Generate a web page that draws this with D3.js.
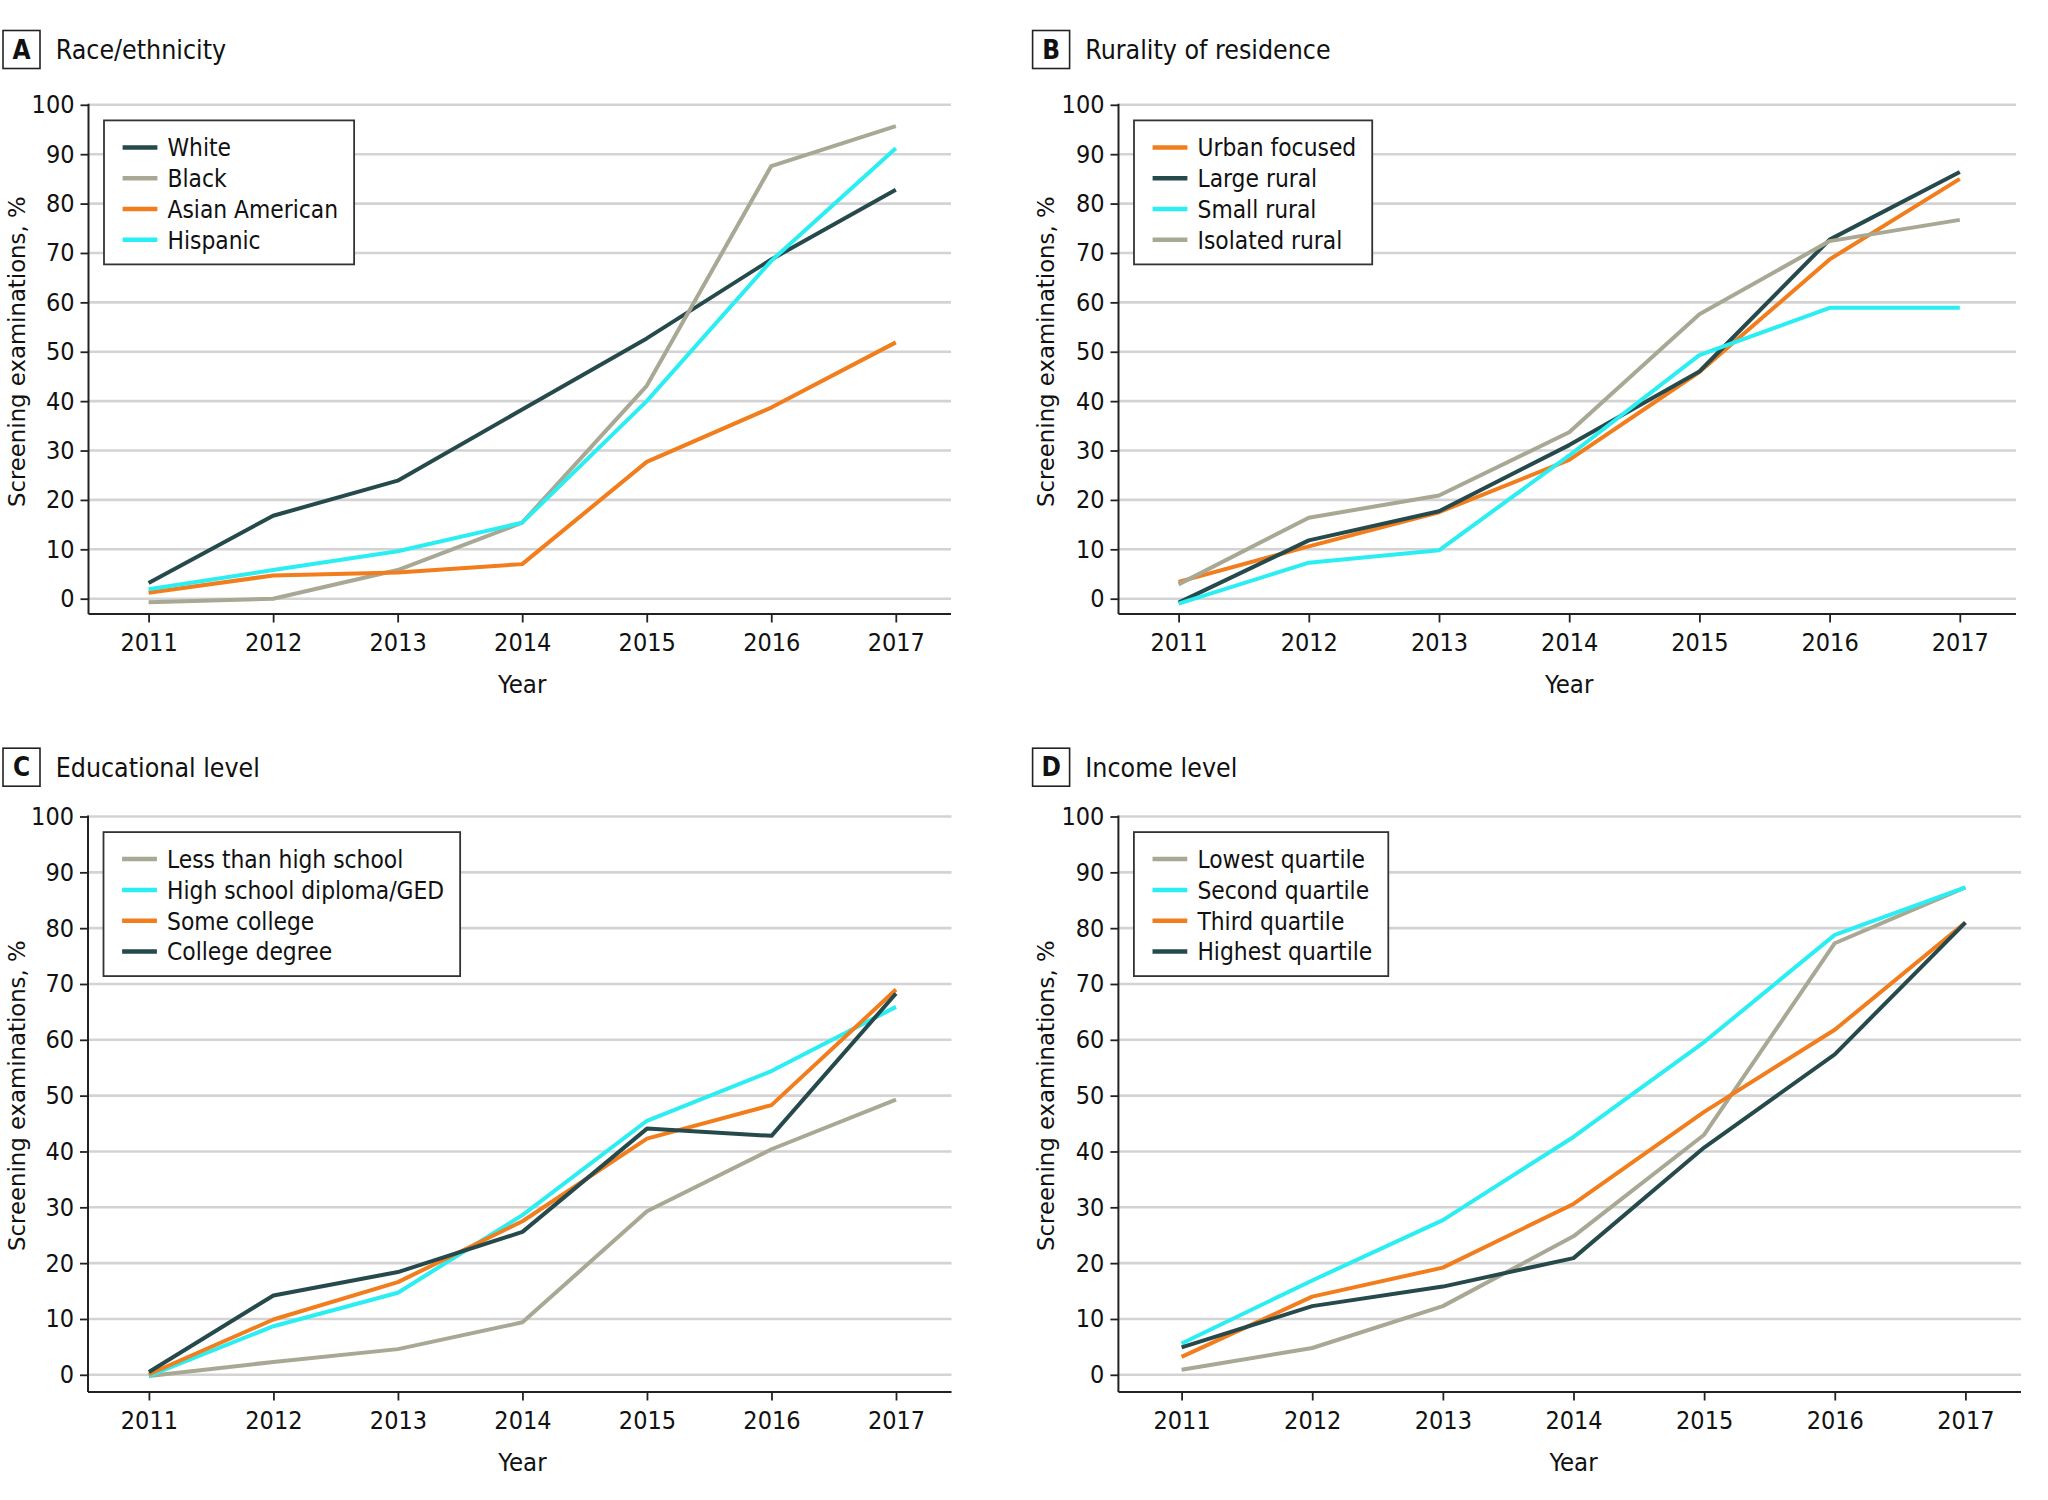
<!DOCTYPE html>
<html>
<head>
<meta charset="utf-8">
<script src="https://cdn.jsdelivr.net/npm/d3@7"></script>
<style>
	body { margin: 0; background: #fff; }
	svg { display: block; }
	.cond { font-family: "DejaVu Sans Condensed", "DejaVu Sans", sans-serif; font-stretch: condensed; }
	.ylab { font-family: "DejaVu Sans", sans-serif; }
</style>
</head>
<body>
<svg id="chart" width="2048" height="1500"></svg>
<script>
/*	Data ----------------------------------------------------------------------*/
var years = [2011, 2012, 2013, 2014, 2015, 2016, 2017];
var valueTicks = [0, 10, 20, 30, 40, 50, 60, 70, 80, 90, 100];

var raceNames = ["White", "Black", "Asian American", "Hispanic"];
var raceWhite = [3.2, 16.8, 23.9, 38.3, 52.7, 68.7, 82.8];
var raceBlack = [-0.7, 0, 5.8, 15.4, 43.1, 87.6, 95.7];
var raceAsian = [1.2, 4.7, 5.3, 7.0, 27.7, 38.7, 51.9];
var raceHispanic = [1.9, 5.8, 9.6, 15.4, 40.0, 68.4, 91.2];

var ruralNames = ["Urban focused", "Large rural", "Small rural", "Isolated rural"];
var ruralUrban = [3.4, 10.6, 17.5, 28.1, 45.9, 68.7, 85.0];
var ruralLarge = [-0.8, 11.8, 17.7, 31.1, 46.0, 72.7, 86.4];
var ruralSmall = [-1.0, 7.3, 9.8, 29.0, 49.3, 58.9, 58.9];
var ruralIsolated = [2.9, 16.4, 20.9, 33.7, 57.6, 72.4, 76.7];

var eduNames = ["Less than high school", "High school diploma/GED", "Some college", "College degree"];
var eduLess = [-0.2, 2.3, 4.6, 9.4, 29.3, 40.4, 49.3];
var eduHigh = [-0.2, 8.7, 14.7, 28.6, 45.5, 54.4, 65.9];
var eduSome = [0.1, 9.9, 16.6, 27.5, 42.3, 48.3, 69.0];
var eduCollege = [0.5, 14.2, 18.4, 25.6, 44.1, 42.8, 68.3];

var incomeNames = ["Lowest quartile", "Second quartile", "Third quartile", "Highest quartile"];
var incomeLowest = [0.9, 4.8, 12.3, 24.8, 43.0, 77.3, 87.3];
var incomeSecond = [5.6, 16.9, 27.7, 42.6, 59.6, 78.8, 87.3];
var incomeThird = [3.2, 14.0, 19.2, 30.6, 47.1, 61.8, 81.0];
var incomeHighest = [4.9, 12.3, 15.8, 20.9, 40.7, 57.4, 81.0];

/*	Colours --------------------------------------------------------------------*/
var cDark = "#264a4c", cGray = "#a8a894", cOrange = "#f27d1c", cCyan = "#2aeef2";

/*	Panels: layout in pixels + the series drawn in it ---------------------------*/
var panels = [
	{ letter: "A", title: "Race/ethnicity", ox: 0, oy: 0,
	  left: 88.5, right: 951, x0: 148.6, x1: 895.8, yTop: 104.8, yZero: 598.7, axisY: 614,
	  names: raceNames, values: [raceWhite, raceBlack, raceAsian, raceHispanic],
	  colors: [cDark, cGray, cOrange, cCyan] },
	{ letter: "B", title: "Rurality of residence", ox: 1029.6, oy: 0,
	  left: 1118.5, right: 2016, x0: 1178.6, x1: 1959.8, yTop: 104.8, yZero: 598.7, axisY: 614,
	  names: ruralNames, values: [ruralUrban, ruralLarge, ruralSmall, ruralIsolated],
	  colors: [cOrange, cDark, cCyan, cGray] },
	{ letter: "C", title: "Educational level", ox: 0, oy: 717.7,
	  left: 88, right: 951.5, x0: 148.9, x1: 896, yTop: 816.5, yZero: 1374.8, axisY: 1392,
	  names: eduNames, values: [eduLess, eduHigh, eduSome, eduCollege],
	  colors: [cGray, cCyan, cOrange, cDark] },
	{ letter: "D", title: "Income level", ox: 1029.6, oy: 717.7,
	  left: 1118.4, right: 2021, x0: 1181.6, x1: 1965.4, yTop: 816.5, yZero: 1374.8, axisY: 1392,
	  names: incomeNames, values: [incomeLowest, incomeSecond, incomeThird, incomeHighest],
	  colors: [cGray, cCyan, cOrange, cDark] }
];

var svg = d3.select("#chart");

/*	Title with boxed letter ----------------------------------------------------*/
var addTitle = function(self) {
	var g = self.g;
	g.append("rect")
		.attr("x", 3 + self.ox).attr("y", 30.5 + self.oy)
		.attr("width", 37).attr("height", 38)
		.style("fill", "none").style("stroke", "#222").style("stroke-width", "1.6");
	g.append("text")
		.attr("class", "cond")
		.attr("x", 21.5 + self.ox).attr("y", 58.5 + self.oy)
		.attr("text-anchor", "middle")
		.attr("font-size", "26px").attr("font-weight", "bold")
		.style("fill", "#111")
		.text(self.letter);
	g.append("text")
		.attr("class", "cond")
		.attr("x", 55.7 + self.ox).attr("y", 58.9 + self.oy)
		.attr("font-size", "26.5px")
		.style("fill", "#111")
		.text(self.title);
}

/*	Grid, axes and labels ------------------------------------------------------*/
var addAxis = function(self) {
	var g = self.g;
	/*	horizontal grid lines ---------------------------------------------------*/
	g.append("g").selectAll("line")
		.data(valueTicks)
		.enter()
		.append("line")
		.attr("x1", self.left).attr("x2", self.right)
		.attr("y1", function(d) { return self.yScale(d); })
		.attr("y2", function(d) { return self.yScale(d); })
		.style("stroke", "#d3d3d3").style("stroke-width", "2.6");

	/*	Y axis ------------------------------------------------------------------*/
	var yAxis = d3.axisLeft(self.yScale).tickValues(valueTicks).tickSize(8).tickPadding(6);
	var yG = g.append("g")
		.attr("transform", "translate(" + self.left + ",0)")
		.call(yAxis);
	yG.select(".domain").remove();
	yG.append("line")
		.attr("x1", 0).attr("x2", 0)
		.attr("y1", self.yScale(100) - 1).attr("y2", self.axisY)
		.style("stroke", "#222").style("stroke-width", "2");
	yG.selectAll("g.tick line").style("stroke", "#222").style("stroke-width", "1.8");
	yG.selectAll("g.tick text")
		.attr("class", "cond")
		.style("font-size", "25px").style("fill", "#111");

	/*	X axis ------------------------------------------------------------------*/
	var xAxis = d3.axisBottom(self.xScale).tickValues(years).tickFormat(d3.format("d"))
		.tickSize(8.5).tickPadding(11);
	var xG = g.append("g")
		.attr("transform", "translate(0," + self.axisY + ")")
		.call(xAxis);
	xG.select(".domain").remove();
	xG.append("line")
		.attr("x1", self.left).attr("x2", self.right)
		.attr("y1", 0).attr("y2", 0)
		.style("stroke", "#222").style("stroke-width", "2");
	xG.selectAll("g.tick line").style("stroke", "#222").style("stroke-width", "1.8");
	xG.selectAll("g.tick text")
		.attr("class", "cond")
		.style("font-size", "25px").style("fill", "#111");

	/*	axis titles -------------------------------------------------------------*/
	g.append("text")
		.attr("class", "cond")
		.attr("x", self.xScale(2014)).attr("y", self.axisY + 79)
		.attr("text-anchor", "middle")
		.attr("font-size", "25.5px").style("fill", "#111")
		.text("Year");
	var cy = (self.yScale(0) + self.yScale(100)) / 2;
	g.append("text")
		.attr("class", "ylab")
		.attr("text-anchor", "middle")
		.attr("transform", "translate(" + (24.5 + self.ox) + "," + cy + ")rotate(-90)")
		.attr("font-size", "22.8px").style("fill", "#111")
		.text("Screening examinations, %");
}

/*	Series lines ---------------------------------------------------------------*/
var addLines = function(self) {
	var line = d3.line()
		.x(function(d, i) { return self.xScale(years[i]); })
		.y(function(d) { return self.yScale(d); });
	self.g.append("g").selectAll("path")
		.data(self.values)
		.enter()
		.append("path")
		.attr("d", function(d) { return line(d); })
		.style("fill", "none")
		.style("stroke", function(d, i) { return self.colors[i]; })
		.style("stroke-width", "4")
		.style("stroke-linejoin", "round");
}

/*	Legend box -----------------------------------------------------------------*/
var addLegend = function(self) {
	var bx = self.left + 15.5, by = self.yTop + 15.6;
	var lg = self.g.append("g");
	var box = lg.append("rect")
		.attr("x", bx).attr("y", by)
		.attr("height", 144)
		.style("fill", "#fff").style("stroke", "#333").style("stroke-width", "1.8");
	var rows = lg.selectAll("g.row")
		.data(self.names)
		.enter()
		.append("g")
		.attr("class", "row")
		.attr("transform", function(d, i) { return "translate(" + bx + "," + (by + 27 + i * 30.8) + ")"; });
	rows.append("line")
		.attr("x1", 18.6).attr("x2", 53.4)
		.attr("y1", 0).attr("y2", 0)
		.style("stroke", function(d, i) { return self.colors[i]; })
		.style("stroke-width", "4.5");
	rows.append("text")
		.attr("class", "cond")
		.attr("x", 63.5).attr("y", 8.8)
		.attr("font-size", "24.3px").style("fill", "#111")
		.text(function(d) { return d; });
	var maxW = 0;
	rows.selectAll("text").each(function() { maxW = Math.max(maxW, this.getComputedTextLength()); });
	box.attr("width", 63.5 + maxW + 16);
}

panels.forEach(function(p) {
	var self = p;
	self.g = svg.append("g");
	self.xScale = d3.scaleLinear().domain([2011, 2017]).range([p.x0, p.x1]);
	self.yScale = d3.scaleLinear().domain([0, 100]).range([p.yZero, p.yTop]);
	addTitle(self);
	addAxis(self);
	addLines(self);
	addLegend(self);
});
</script>
</body>
</html>
